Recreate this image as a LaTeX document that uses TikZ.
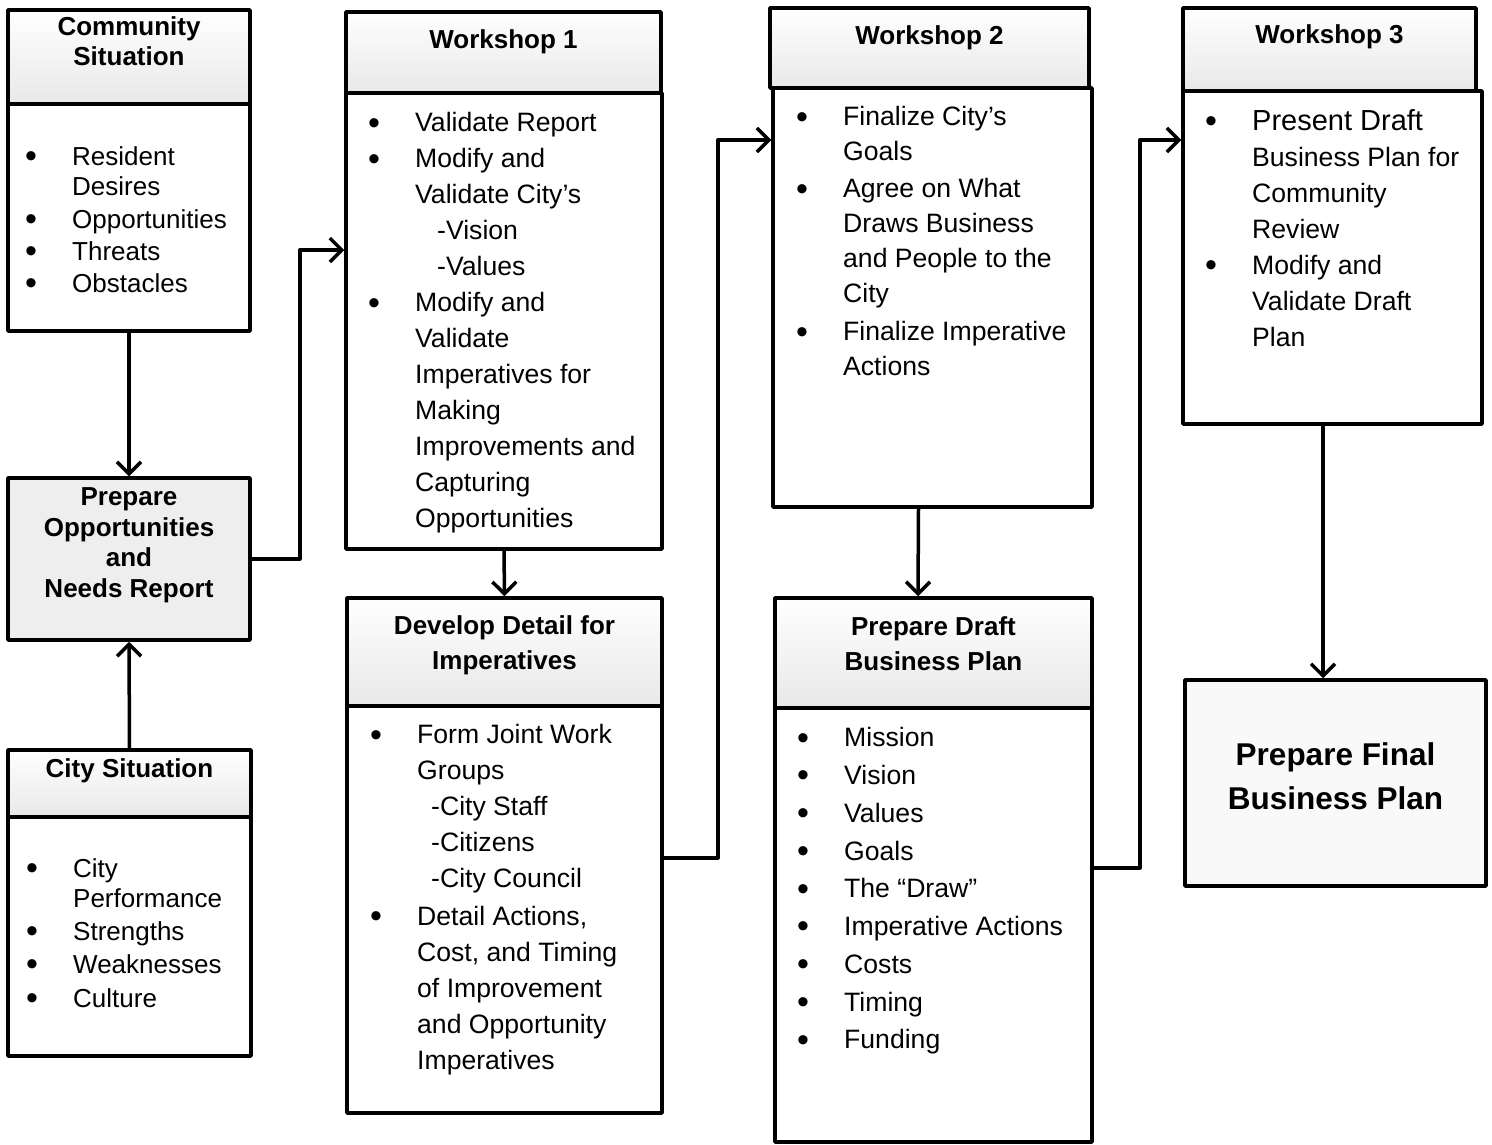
\documentclass[tikz,border=0pt]{standalone}
\usepackage{fontspec}
\setmainfont{Liberation Sans}
\usetikzlibrary{arrows.meta}
\usetikzlibrary{positioning}

\newcommand{\bul}{\makebox[47pt][l]{\raisebox{-2.2pt}{\fontsize{34}{0}\selectfont\textbullet}}}
\newcommand{\cnt}{\hspace*{47pt}}

\tikzset{
  box/.style={draw, line width=3.5pt, fill=white, inner sep=0pt},
  head/.style={box, top color=white, bottom color=gray!18},
  greybox/.style={box, fill=gray!13},
  title/.style={inner sep=0pt, align=center, font=\bfseries\fontsize{26}{30}\selectfont},
  list/.style={inner sep=0pt, align=left, anchor=north west, font=\fontsize{26.6}{36}\selectfont},
  flow/.style={line width=3.5pt, ->}
}

\begin{document}
\begin{tikzpicture}[line cap=round,line join=round,>={Straight Barb[length=12pt,width=24pt]},x=1pt,y=-1pt]
\useasboundingbox (0,0) rectangle (1492,1144);

% left column
\node[head, minimum width=242, minimum height=94] (cs_head) at (129,57) {};
\node[box, minimum width=242, minimum height=227] (cs_body) at (129,217.5) {};
\node[greybox, minimum width=242, minimum height=162] (prep) at (129,559) {};
\node[head, minimum width=243, minimum height=67] (city_head) at (129.5,783.5) {};
\node[box, minimum width=243, minimum height=239] (city_body) at (129.5,936.5) {};

% workshop 1
\node[head, minimum width=315, minimum height=81] (w1_head) at (503.5,52.5) {};
\node[box, minimum width=316, minimum height=456] (w1_body) at (504,321) {};
\node[head, minimum width=315, minimum height=108] (dev_head) at (504.5,652) {};
\node[box, minimum width=315, minimum height=407] (dev_body) at (504.5,909.5) {};

% workshop 2
\node[head, minimum width=319, minimum height=80] (w2_head) at (929.5,48) {};
\node[box, minimum width=319, minimum height=419] (w2_body) at (932.5,297.5) {};
\node[head, minimum width=317, minimum height=110] (draft_head) at (933.5,653) {};
\node[box, minimum width=317, minimum height=434] (draft_body) at (933.5,925) {};

% workshop 3
\node[head, minimum width=293, minimum height=83] (w3_head) at (1329.5,49.5) {};
\node[box, minimum width=299, minimum height=333] (w3_body) at (1332.5,257.5) {};
\node[box, fill=gray!5, minimum width=301, minimum height=206] (final) at (1335.5,783) {};

% titles
\node[title, anchor=north] (cs_t) at ([yshift=-8pt]cs_head.north) {Community\\Situation};
\node[title, anchor=north, font=\bfseries\fontsize{26}{30.7}\selectfont] (prep_t) at ([yshift=-11pt]prep.north) {Prepare\\Opportunities\\and\\Needs Report};
\node[title, anchor=north] (city_t) at ([yshift=-10pt]city_head.north) {City Situation};
\node[title, anchor=north] (w1_t) at ([yshift=-19pt]w1_head.north) {Workshop 1};
\node[title, anchor=north, font=\bfseries\fontsize{26}{35}\selectfont] (dev_t) at ([yshift=-19pt]dev_head.north) {Develop Detail for\\Imperatives};
\node[title, anchor=north] (w2_t) at ([yshift=-19pt]w2_head.north) {Workshop 2};
\node[title, anchor=north, font=\bfseries\fontsize{26}{35}\selectfont] (draft_t) at ([yshift=-20pt]draft_head.north) {Prepare Draft\\Business Plan};
\node[title, anchor=north] (w3_t) at ([yshift=-18pt]w3_head.north) {Workshop 3};
\node[title, anchor=north, font=\bfseries\fontsize{31.5}{44}\selectfont] (final_t) at (1335.5,742) {Prepare Final\\Business Plan};

% lists
\node[list, font=\fontsize{26}{30}\selectfont] (cs_l) at (25,146.5)
  {\bul Resident\\ \cnt Desires\\[2.5pt] \bul Opportunities\\[2pt] \bul Threats\\[2pt] \bul Obstacles};
\node[list, font=\fontsize{26}{30}\selectfont] (city_l) at (26,858.5)
  {\bul City\\ \cnt Performance\\[3pt] \bul Strengths\\[3pt] \bul Weaknesses\\[3.5pt] \bul Culture};
\node[list] (w1_l) at (368,112.5)
  {\bul Validate Report\\ \bul Modify and\\ \cnt Validate City’s\\ \hspace*{69pt}-Vision\\ \hspace*{69pt}-Values\\
   \bul Modify and\\ \cnt Validate\\ \cnt Imperatives for\\ \cnt Making\\ \cnt Improvements and\\ \cnt Capturing\\ \cnt Opportunities};
\node[list] (dev_l) at (370,724.5)
  {\bul Form Joint Work\\ \cnt Groups\\ \hspace*{61pt}-City Staff\\ \hspace*{61pt}-Citizens\\ \hspace*{61pt}-City Council\\[1.5pt]
   \bul Detail Actions,\\ \cnt Cost, and Timing\\ \cnt of Improvement\\ \cnt and Opportunity\\ \cnt Imperatives};
\node[list, font=\fontsize{26.6}{35}\selectfont] (w2_l) at (796,106.5)
  {\bul Finalize City’s\\ \cnt Goals\\[2pt] \bul Agree on What\\ \cnt Draws Business\\ \cnt and People to the\\ \cnt City\\[3pt]
   \bul Finalize Imperative\\ \cnt Actions};
\node[list, font=\fontsize{26.6}{37.75}\selectfont] (draft_l) at (797,727.5)
  {\bul Mission\\ \bul Vision\\ \bul Values\\ \bul Goals\\ \bul The “Draw”\\ \bul Imperative Actions\\ \bul Costs\\ \bul Timing\\ \bul Funding};
\node[list] (w3_l) at (1205,109)
  {\bul {\fontsize{29}{36}\selectfont Present Draft}\\ \cnt Business Plan for\\ \cnt Community\\ \cnt Review\\
   \bul Modify and\\ \cnt Validate Draft\\ \cnt Plan};

% connectors
\coordinate (w1_in) at (w1_body.west |- 0,250);
\coordinate (w2_in) at (w2_body.west |- 0,140);
\coordinate (w3_in) at (w3_body.west |- 0,140);
\draw[flow] (cs_body.south) -- (prep.north);
\draw[flow] (city_head.north) -- (prep.south);
\draw[flow] (prep.east) -- ++(48,0) |- (w1_in);
\draw[flow] (w1_body.south) -- (dev_head.north);
\draw[flow] (dev_body.east |- 0,858) -- ++(54,0) |- (w2_in);
\draw[flow] ([xshift=-14pt]w2_body.south) -- ([xshift=-15.5pt]draft_head.north);
\draw[flow] (draft_body.east |- 0,868) -- ++(46,0) |- (w3_in);
\draw[flow] ([xshift=-9.5pt]w3_body.south) -- ([xshift=-12.5pt]final.north);
\end{tikzpicture}
\end{document}
